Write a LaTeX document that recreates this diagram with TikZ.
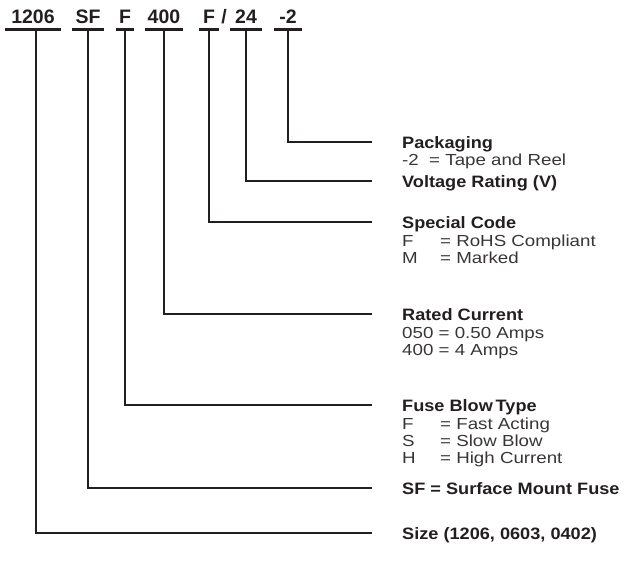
\documentclass[tikz,border=0pt]{standalone}
\usepackage{fontspec}
\setmainfont{Liberation Sans}
\newfontfamily\widebold[FakeStretch=1.1]{Liberation Sans Bold}
\newfontfamily\widetext[FakeStretch=1.17]{Liberation Sans}
\definecolor{ink}{HTML}{231F20}

\begin{document}
\begin{tikzpicture}[x=1pt, y=-1pt,
	code/.style={font=\fontsize{19.5}{20}\selectfont\bfseries, text=ink, inner xsep=0pt, inner ysep=6pt, text depth=0pt, anchor=base},
	title/.style={font=\fontsize{16.5}{17}\widebold, text=ink, inner sep=0pt, anchor=base west},
	info/.style={font=\fontsize{16}{17}\widetext, text=ink!90, inner sep=0pt, anchor=base west},
	bar/.style={line width=3pt, draw=ink},
	lead/.style={line width=1.2pt, draw=ink}]
	\useasboundingbox (0,0) rectangle (624,573);
	% part number
	\node[code, minimum width=56pt] (size) at (33,23) {1206};
	\node[code, minimum width=32pt] (sf) at (88,23) {SF};
	\node[code, minimum width=18pt] (blow) at (125,23) {F};
	\node[code, minimum width=38pt] (amps) at (164,23) {400};
	\node[code, minimum width=20pt] (spec) at (209,23) {F};
	\node[code] (slash) at (224,23) {/};
	\node[code, minimum width=32pt] (volt) at (246,23) {24};
	\node[code, minimum width=28pt] (pack) at (288,23) {-2};
	\draw[bar] (size.south west) -- (size.south east);
	\draw[bar] (sf.south west) -- (sf.south east);
	\draw[bar] (blow.south west) -- (blow.south east);
	\draw[bar] (amps.south west) -- (amps.south east);
	\draw[bar] (spec.south west) -- (spec.south east);
	\draw[bar] (volt.south west) -- (volt.south east);
	\draw[bar] (pack.south west) -- (pack.south east);
	% legend
	\node[title] (tpack) at (402,148) {Packaging};
	\node[info] (ipack) at (402,165) {-2\ \ = Tape and Reel};
	\node[title] (tvolt) at (402,187) {Voltage Rating (V)};
	\node[title] (tspec) at (402,228) {Special Code};
	\node[info] (ispec1) at (402,246) {\makebox[38pt][l]{F}= RoHS Compliant};
	\node[info] (ispec2) at (402,263) {\makebox[38pt][l]{M}= Marked};
	\node[title] (tamps) at (402,320) {Rated Current};
	\node[info] (iamps1) at (402,338) {050 = 0.50 Amps};
	\node[info] (iamps2) at (402,355) {400 = 4 Amps};
	\node[title] (tblow) at (402,411) {Fuse Blow\,Type};
	\node[info] (iblow1) at (402,429) {\makebox[38pt][l]{F}= Fast Acting};
	\node[info] (iblow2) at (402,446) {\makebox[38pt][l]{S}= Slow Blow};
	\node[info] (iblow3) at (402,463) {\makebox[38pt][l]{H}= High Current};
	\node[title] (tsf) at (402,494) {SF = Surface Mount Fuse};
	\node[title] (tsize) at (402,539) {Size (1206, 0603, 0402)};
	% leaders
	\draw[lead] (pack.south) |- ([shift={(-30pt,6pt)}]tpack.base west);
	\draw[lead] (volt.south) |- ([shift={(-30pt,6pt)}]tvolt.base west);
	\draw[lead] (spec.south) |- ([shift={(-30pt,6pt)}]tspec.base west);
	\draw[lead] (amps.south) |- ([shift={(-30pt,6pt)}]tamps.base west);
	\draw[lead] (blow.south) |- ([shift={(-30pt,6pt)}]tblow.base west);
	\draw[lead] (sf.south) |- ([shift={(-30pt,6pt)}]tsf.base west);
	\draw[lead] ([xshift=3pt]size.south) |- ([shift={(-30pt,6pt)}]tsize.base west);
\end{tikzpicture}
\end{document}
